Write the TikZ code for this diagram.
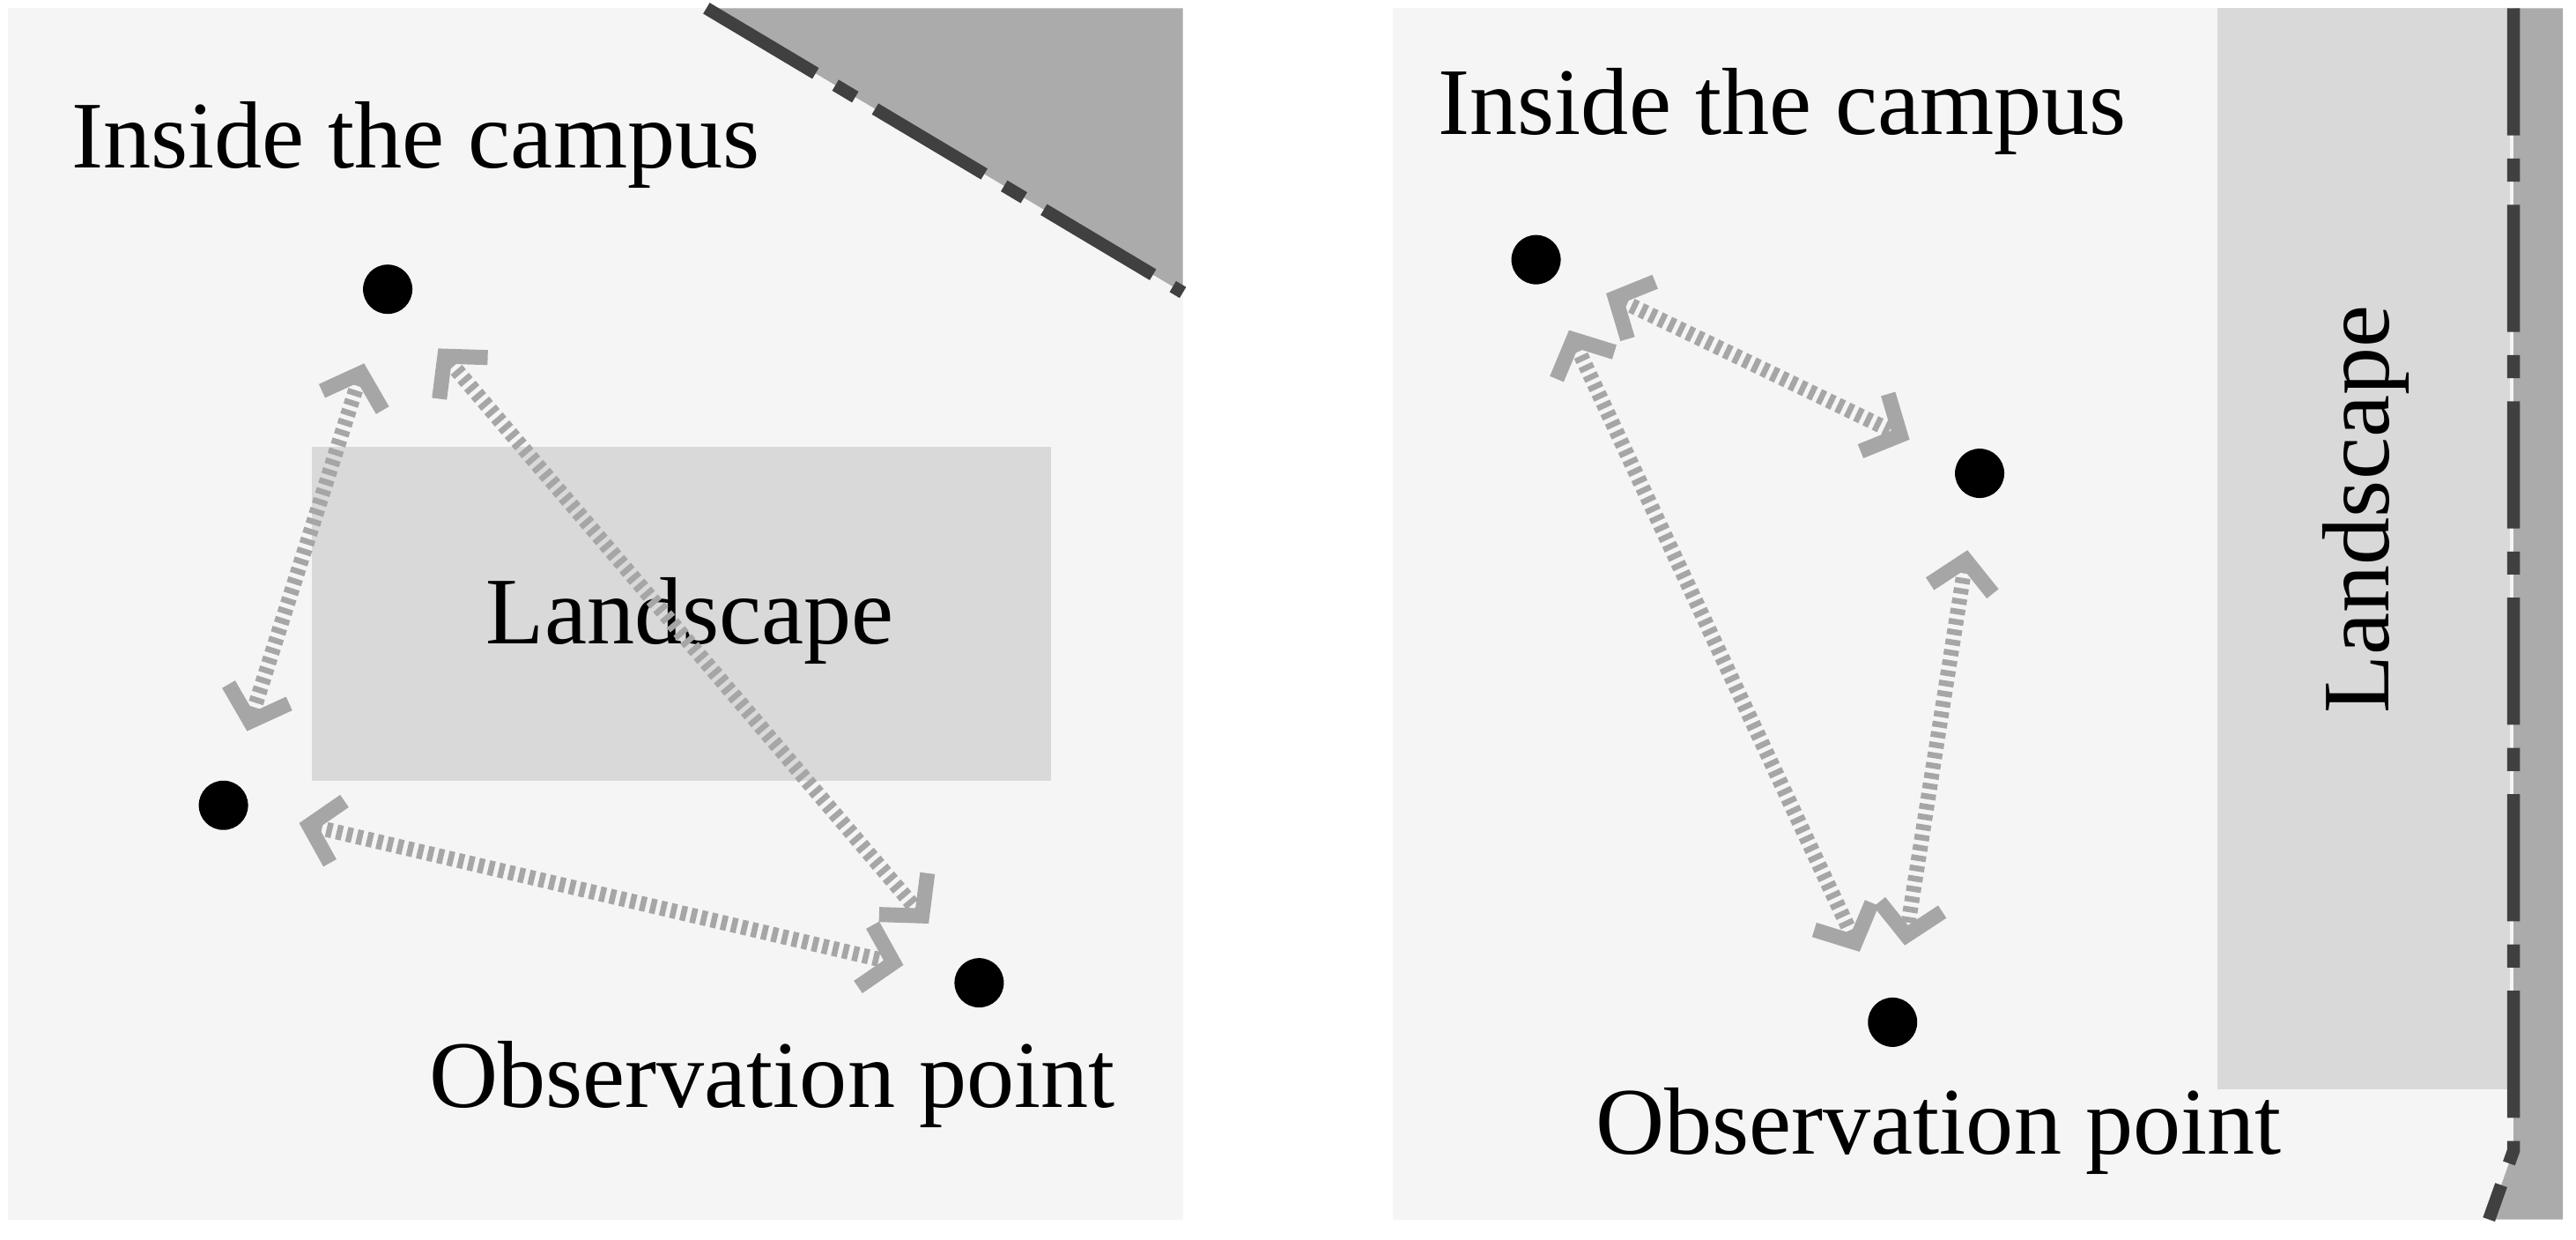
\documentclass[tikz,border=0pt]{standalone}
\usepackage{fontspec}
\setmainfont{Liberation Serif}
\usetikzlibrary{arrows.meta}
\begin{document}
\begin{tikzpicture}[x=0.01cm,y=-0.01cm,
  dot/.style={circle,fill=black,inner sep=0pt,minimum size=0.3cm},
  lbl/.style={font=\fontsize{16.5}{18}\selectfont,inner sep=0pt},
  link/.style={draw=black!35,line width=2.6pt,dash pattern=on 1pt off 0.8pt,
    {Straight Barb[length=5pt,width=11pt,line width=2.6pt]}-{Straight Barb[length=5pt,width=11pt,line width=2.6pt]},shorten <=9pt,shorten >=9pt},
  border/.style={draw=black!75,line width=2.2pt,dash pattern=on 22pt off 4pt on 4pt off 4pt}]
\useasboundingbox (0,0) rectangle (1568,754);
\fill[white] (0,0) rectangle (1568,754);
% left panel
\fill[black!4] (5,5) rectangle (720,742);
\fill[black!33] (430,5) -- (720,5) -- (720,178) -- cycle;
\draw[border] (430,5) -- (720,178);
\fill[black!15] (190,272) rectangle (640,475);
\node[lbl] (l1) at (420,378) {Landscape};
\node[lbl] (i1) at (253,88) {Inside the campus};
\node[lbl] (o1) at (470,660) {Observation point};
\node[dot] (a) at (236,176) {};
\node[dot] (b) at (136,490) {};
\node[dot] (c) at (596,598) {};
\draw[link] (a) -- (b);
\draw[link] (a) -- (c);
\draw[link] (b) -- (c);
% right panel
\fill[black!4] (848,5) rectangle (1560,742);
\fill[black!33] (1530,5) -- (1560,5) -- (1560,742) -- (1515,742) -- (1530,700) -- cycle;
\fill[black!15] (1350,5) rectangle (1528,663);
\draw[border] (1530,5) -- (1530,700) -- (1515,742);
\node[lbl,rotate=90] (l2) at (1440,310) {Landscape};
\node[lbl] (i2) at (1085,68) {Inside the campus};
\node[lbl] (o2) at (1180,688) {Observation point};
\node[dot] (d) at (935,158) {};
\node[dot] (e) at (1205,288) {};
\node[dot] (f) at (1152,622) {};
\draw[link] (d) -- (e);
\draw[link] (d) -- (f);
\draw[link] (e) -- (f);
\end{tikzpicture}
\end{document}
